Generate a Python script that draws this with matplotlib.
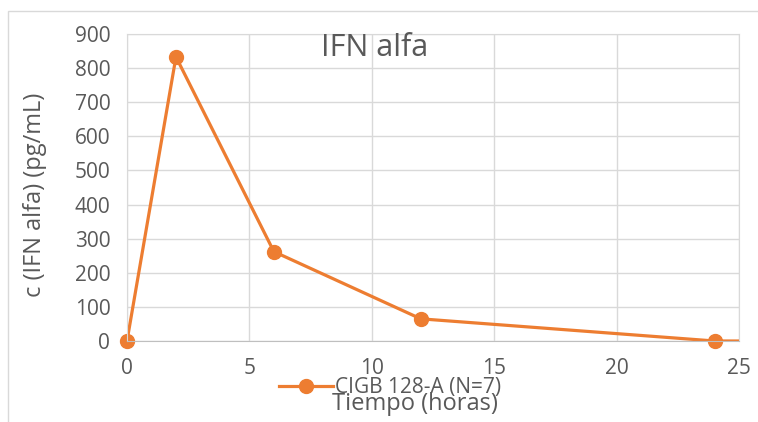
import matplotlib.pyplot as plt
from matplotlib.patches import Rectangle

# datos
tiempo = [0, 2, 6, 12, 24]
conc = [0, 833, 262, 65, 0]
# la linea sigue despues del ultimo punto (recortada en x=25)
tiempo_linea = tiempo + [48]
conc_linea = conc + [0]
serie = 'CIGB 128-A (N=7)'

gris = '#595959'
naranja = '#ED7D31'
plt.rcParams['font.family'] = ['Open Sans', 'DejaVu Sans']

fig = plt.figure(figsize=(7.58, 4.22), dpi=100)
ax = fig.add_axes([127/758, 1 - 341/422, (739 - 127)/758, (341 - 34)/422])

# marco exterior del grafico
fig.patches.append(Rectangle((8/758, -0.1), 1.0, 1 - 11/422 + 0.1, transform=fig.transFigure,
                             fill=False, edgecolor='#d9d9d9', linewidth=1))

ax.plot(tiempo_linea, conc_linea, color=naranja, linewidth=2.3)
ax.plot(tiempo, conc, color=naranja, linestyle='none', marker='o', markersize=10, clip_on=False)
# entrada de la leyenda
ax.plot([], [], color=naranja, linewidth=2.3, marker='o', markersize=10, label=serie)

ax.set_xlim(0, 25)
ax.set_ylim(0, 900)
ax.set_xticks(range(0, 26, 5))
ax.set_yticks(range(0, 901, 100))
ax.grid(color='#d9d9d9', linewidth=1)
ax.set_axisbelow(True)
for s in ax.spines.values():
    s.set_color('#d9d9d9')
ax.spines['bottom'].set_color('#bfbfbf')
ax.tick_params(length=0, labelsize=15, labelcolor=gris, pad=12)

ax.text(375/758, 1 - 48/422, 'IFN alfa', transform=fig.transFigure, ha='center', va='center',
        fontsize=22, color=gris)
fig.text(35/758, 1 - 195/422, 'c (IFN alfa) (pg/mL)', rotation=90, ha='center', va='center',
         fontsize=17, color=gris)
fig.text(415/758, 1 - 404/422, 'Tiempo (horas)', ha='center', va='center',
         fontsize=17, color=gris)
ax.legend(loc='center', bbox_to_anchor=(390/758, 1 - 388/422), bbox_transform=fig.transFigure,
          frameon=False, fontsize=15, labelcolor=gris, handlelength=2.6,
          handletextpad=0.1, borderpad=0)

plt.savefig('out.png', dpi=100)
